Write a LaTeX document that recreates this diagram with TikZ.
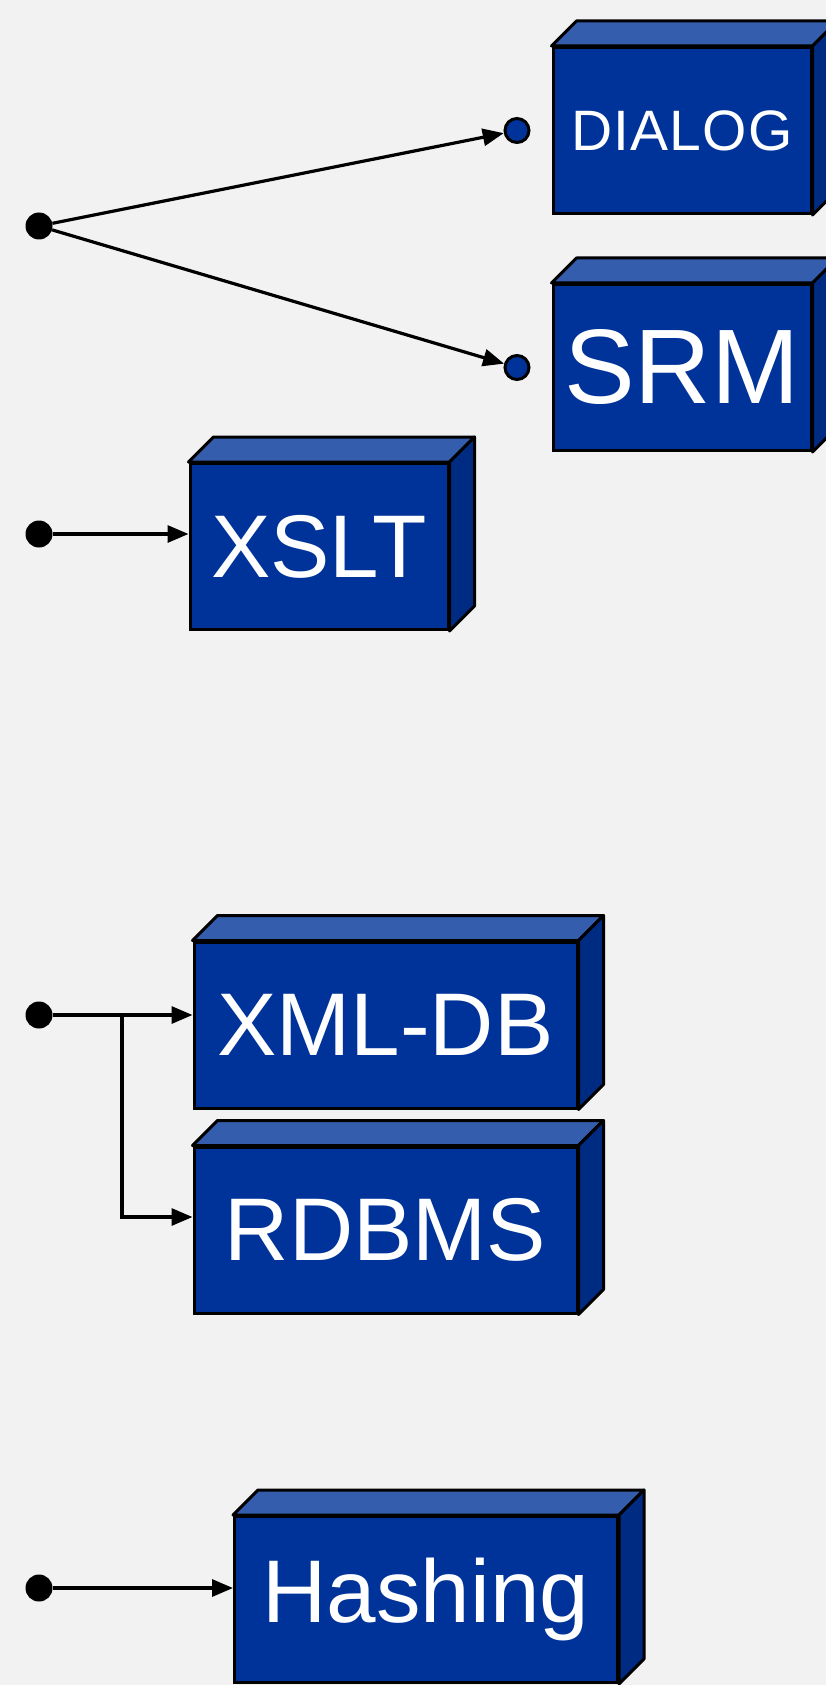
\documentclass[tikz,border=0pt]{standalone}
\usepackage{fontspec}
\setmainfont{Liberation Sans}
\usetikzlibrary{positioning, calc, arrows.meta}
\definecolor{bgcol}{HTML}{F2F2F2}
\definecolor{boxfront}{HTML}{003399}
\definecolor{boxtop}{HTML}{345DAD}
\definecolor{boxside}{HTML}{002B82}
\tikzset{block/.style={rectangle, minimum width=258pt, minimum height=166pt, inner sep=0pt, text centered, draw=black, line width=3pt, fill=boxfront, text=white, font=\fontsize{89pt}{92pt}\selectfont},
         wideblock/.style={block, minimum width=383pt},
         dot/.style={circle, fill=black, inner sep=0pt, minimum size=27pt},
         pin/.style={circle, draw=black, line width=3pt, fill=boxfront, inner sep=0pt, minimum size=24pt},
         conn/.style={line width=3.2pt, -{Triangle[length=21pt,width=17pt]}},
         face/.style={draw=black, line width=3pt, line join=round}}

\begin{document}
\begin{tikzpicture}[x=1pt, y=-1pt]
        \useasboundingbox (0,0) rectangle (826,1685);
        \fill[bgcol] (0,0) rectangle (826,1685);

        \node (dialog)[block, font=\fontsize{57pt}{60pt}\selectfont\addfontfeature{LetterSpace=2}] at (682,130.5){DIALOG};
        \node (srm)[block, below=68pt of dialog, font=\fontsize{106pt}{110pt}\selectfont]{SRM};
        \node (dlgpin)[pin, left=21pt of dialog]{};
        \node (srmpin)[pin, left=21pt of srm]{};
        \node (d1)[dot] at (39,226){};
        \draw [conn] (d1) -- (dlgpin);
        \draw [conn] (d1) -- (srmpin);

        \node (xslt)[block] at (319,546.5){XSLT};
        \node (d2)[dot] at (39,534){};
        \draw [conn] (d2) -- (d2 -| xslt.west);

        \node (xmldb)[wideblock] at (385.5,1025){XML-DB};
        \node (rdbms)[wideblock, below=36pt of xmldb]{RDBMS};
        \node (d3)[dot] at (39,1015){};
        \coordinate (split) at ([xshift=83pt]d3.center);
        \draw [conn] (d3) -- (d3 -| xmldb.west);
        \draw [conn] (split) |- ([yshift=13pt]rdbms.west);

        \node (hashing)[wideblock] at (426,1599.5){Hashing};
        \node (d4)[dot] at (39,1588){};
        \draw [conn] (d4) -- (d4 -| hashing.west);

        % top and side faces of the boxes
        \foreach \n in {dialog,srm,xslt,xmldb,rdbms,hashing}{
            \filldraw[face, fill=boxtop] (\n.north west) -- ++(25,-25) -- ([shift={(25,-25)}]\n.north east) -- (\n.north east) -- cycle;
            \filldraw[face, fill=boxside] (\n.north east) -- ++(25,-25) -- ([shift={(25,-25)}]\n.south east) -- (\n.south east) -- cycle;
        }
\end{tikzpicture}
\end{document}
